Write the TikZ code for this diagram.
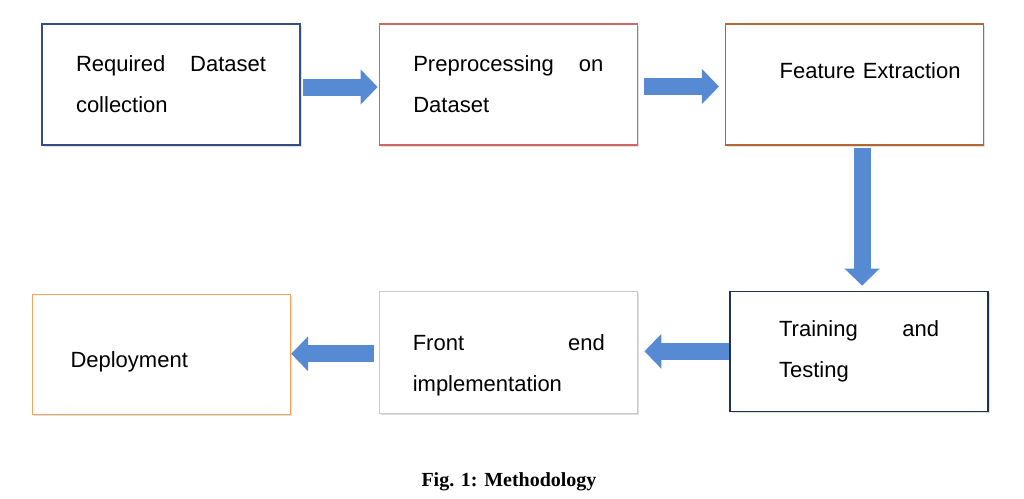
\documentclass[tikz,border=0pt]{standalone}
\usepackage{fontspec}
\setmainfont{Liberation Serif}
\setsansfont{Liberation Sans}
\usepackage{tikz}
\usetikzlibrary{
  positioning,
  arrows.meta,
  shadows
}
\definecolor{collectblue}{RGB}{52,78,130}
\definecolor{prepred}{RGB}{205,105,100}
\definecolor{featbrown}{RGB}{178,104,52}
\definecolor{trainnavy}{RGB}{32,50,76}
\definecolor{frontgray}{RGB}{200,200,214}
\definecolor{deployorange}{RGB}{244,164,96}
\definecolor{arrowblue}{RGB}{86,138,210}
% first line of a box, spread to the full width
\newcommand\spreadline[3]{\hbox to #1{#2\hfill #3}}
\tikzset{
  stagebox/.style={
    rectangle,
    draw,
    line width=1.3pt,
    fill=white,
    inner sep=0pt,
    minimum width=258pt,
    minimum height=121pt,
    align=left,
    font=\sffamily\fontsize{22}{41}\selectfont,
    drop shadow={shadow xshift=1.5pt,shadow yshift=-2pt,opacity=0.25}
  },
  flowarrow/.style={
    draw=arrowblue,
    line width=17pt,
    -{Triangle[length=17pt,width=34pt]}
  }
}

\begin{document}
\begin{tikzpicture}[x=1pt,y=-1pt]

  \useasboundingbox (0,0) rectangle (1024,498);

  % top row
  \node[stagebox,draw=collectblue,text width=190pt] (collect) at (171,84.5)
  {\spreadline{190pt}{Required}{Dataset}\\collection};

  \node[stagebox,draw=prepred,text width=190pt,right=78pt of collect] (prep)
  {\spreadline{190pt}{Preprocessing}{on}\\Dataset};

  \node[stagebox,draw=featbrown,text width=212pt,align=right,
        text height=16pt,text depth=29pt,right=87pt of prep] (feat)
  {Feature Extraction};

  % bottom row
  \node[stagebox,draw=trainnavy,minimum height=120pt,text width=160pt,
        below=145pt of feat,xshift=4.5pt] (train)
  {\spreadline{160pt}{Training}{and}\\Testing};

  \node[stagebox,draw=frontgray,minimum height=122pt,text width=192pt,
        left=91pt of train,yshift=-1pt] (front)
  {\rule{0pt}{42pt}\spreadline{192pt}{Front}{end}\\implementation};

  \node[stagebox,draw=deployorange,minimum height=120pt,text width=182pt,
        text height=30pt,text depth=4pt,left=88pt of front,yshift=-2pt] (deploy)
  {Deployment};

  % block arrows
  \draw[flowarrow,shorten <=2pt,shorten >=1pt]
    ([yshift=-2.5pt]collect.east) -- ([yshift=-2.5pt]prep.west);
  \draw[flowarrow,shorten <=6pt,shorten >=6pt]
    ([yshift=-2pt]prep.east) -- ([yshift=-2pt]feat.west);
  \draw[flowarrow,shorten <=2pt,shorten >=5pt]
    ([xshift=7.5pt]feat.south) -- ([xshift=7.5pt]feat.south |- train.north);
  \draw[flowarrow,shorten >=6pt]
    (train.west) -- (train.west -| front.east);
  \draw[flowarrow,shorten <=5pt]
    ([yshift=-1.5pt]front.west) -- ([yshift=-1.5pt]front.west -| deploy.east);

  \node[font=\rmfamily\bfseries\fontsize{20}{22}\selectfont,anchor=base]
    (caption) at (509,486) {Fig. 1: Methodology};

\end{tikzpicture}
\end{document}
